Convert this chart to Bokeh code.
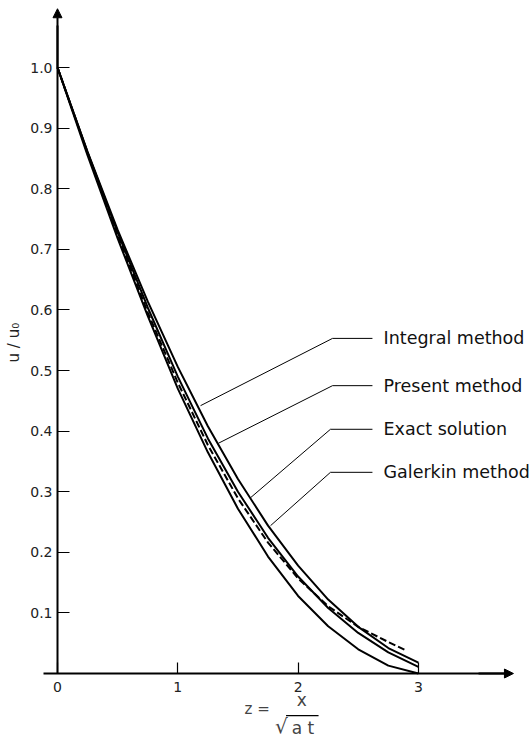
from bokeh.plotting import figure
from bokeh.models import (Range1d, LinearAxis, FixedTicker, PrintfTickFormatter,
                          Arrow, NormalHead, Label)
from bokeh.core.properties import value
from bokeh.embed import file_html
from bokeh.resources import INLINE
import math

# ---- data ----
z = [0.0, 0.25, 0.5, 0.75, 1.0, 1.25, 1.5, 1.75, 2.0, 2.25, 2.5, 2.75, 3.0]
integral_method = [1.0, 0.861, 0.732, 0.614, 0.506, 0.408, 0.321, 0.244, 0.178, 0.122, 0.077, 0.042, 0.018]
present_method = [1.0, 0.860, 0.728, 0.604, 0.490, 0.388, 0.300, 0.224, 0.160, 0.108, 0.067, 0.035, 0.011]
galerkin_method = [1.0, 0.855, 0.718, 0.590, 0.470, 0.365, 0.272, 0.193, 0.128, 0.078, 0.040, 0.013, 0.0]
z_exact = [0.0, 0.25, 0.5, 0.75, 1.0, 1.25, 1.5, 1.75, 2.0, 2.25, 2.5, 2.75, 2.9]
exact_solution = [1.0, 0.859, 0.724, 0.596, 0.480, 0.377, 0.289, 0.216, 0.157, 0.111, 0.077, 0.052, 0.038]

series_labels = ["Integral method", "Present method", "Exact solution", "Galerkin method"]
x_ticks = [0, 1, 2, 3]
y_ticks = [0.1, 0.2, 0.3, 0.4, 0.5, 0.6, 0.7, 0.8, 0.9, 1.0]

FONT = "DejaVu Sans"

p = figure(width=529, height=737, output_backend="svg", toolbar_location=None,
           x_range=Range1d(-0.4738, 3.9235), y_range=Range1d(-0.1056, 1.1106),
           x_axis_location=None, y_axis_location=None, min_border=0)
p.outline_line_color = None
p.xgrid.visible = False
p.ygrid.visible = False
p.background_fill_color = "white"

# axes drawn at the origin, inside the frame
xaxis = LinearAxis(fixed_location=0, bounds=(-0.12, 3.75),
                   ticker=FixedTicker(ticks=x_ticks),
                   major_tick_in=11, major_tick_out=0,
                   minor_tick_in=0, minor_tick_out=0,
                   axis_line_width=2, axis_line_color="black",
                   major_tick_line_width=1.2,
                   major_label_standoff=8,
                   major_label_text_font=FONT,
                   major_label_text_font_size="14px",
                   major_label_text_color="#222222")
p.add_layout(xaxis, "below")

yaxis = LinearAxis(fixed_location=0, bounds=(0, 1.07),
                   ticker=FixedTicker(ticks=y_ticks),
                   formatter=PrintfTickFormatter(format="%.1f"),
                   major_tick_in=12, major_tick_out=0,
                   minor_tick_in=0, minor_tick_out=0,
                   axis_line_width=2, axis_line_color="black",
                   major_tick_line_width=1.2,
                   major_label_standoff=5,
                   major_label_text_font=FONT,
                   major_label_text_font_size="14px",
                   major_label_text_color="#222222")
p.add_layout(yaxis, "left")

# axis arrows
p.add_layout(Arrow(end=NormalHead(size=9, fill_color="black", line_color="black"),
                   line_width=2, x_start=0, y_start=1.0, x_end=0, y_end=1.097))
p.add_layout(Arrow(end=NormalHead(size=9, fill_color="black", line_color="black"),
                   line_width=2, x_start=3.5, y_start=0, x_end=3.79, y_end=0))

# curves
p.line(z, integral_method, line_color="black", line_width=2)
p.line(z, present_method, line_color="black", line_width=2)
p.line(z, galerkin_method, line_color="black", line_width=2)
p.line(z_exact, exact_solution, line_color="black", line_width=2, line_dash="7 3")

# leader lines and labels
leader_x = [[1.189, 2.286, 2.618], [1.338, 2.286, 2.618],
            [1.604, 2.269, 2.618], [1.771, 2.269, 2.618]]
leader_y = [[0.442, 0.553, 0.553], [0.380, 0.475, 0.475],
            [0.290, 0.403, 0.403], [0.244, 0.332, 0.332]]
p.multi_line(leader_x, leader_y, line_color="black", line_width=1)
p.text(x=[2.71] * 4, y=[0.553, 0.475, 0.403, 0.332], text=series_labels,
       text_font=value(FONT), text_font_size="17.5px", text_color="#111111",
       text_baseline="middle", text_align="left")

# y axis title
p.add_layout(Label(x=-0.36, y=0.546, text="u / u₀", angle=math.pi / 2,
                   text_font=FONT, text_font_size="15px", text_color="#222222",
                   text_align="center", text_baseline="middle"))

# x axis title: z = x / sqrt(a t)
p.add_layout(Label(x=1.66, y=-0.058, text="z =", text_font=FONT,
                   text_font_size="15px", text_align="center", text_baseline="middle"))
p.add_layout(Label(x=2.03, y=-0.044, text="x", text_font=FONT,
                   text_font_size="17px", text_align="center", text_baseline="middle"))
p.add_layout(Label(x=1.86, y=-0.086, text="√", text_font=FONT,
                   text_font_size="20px", text_align="center", text_baseline="middle"))
p.add_layout(Label(x=2.04, y=-0.090, text="a t", text_font=FONT,
                   text_font_size="17px", text_align="center", text_baseline="middle"))
p.line([1.90, 2.17], [-0.0695, -0.0695], line_color="black", line_width=1.2)

open("out.html", "w").write(file_html(p, INLINE))
